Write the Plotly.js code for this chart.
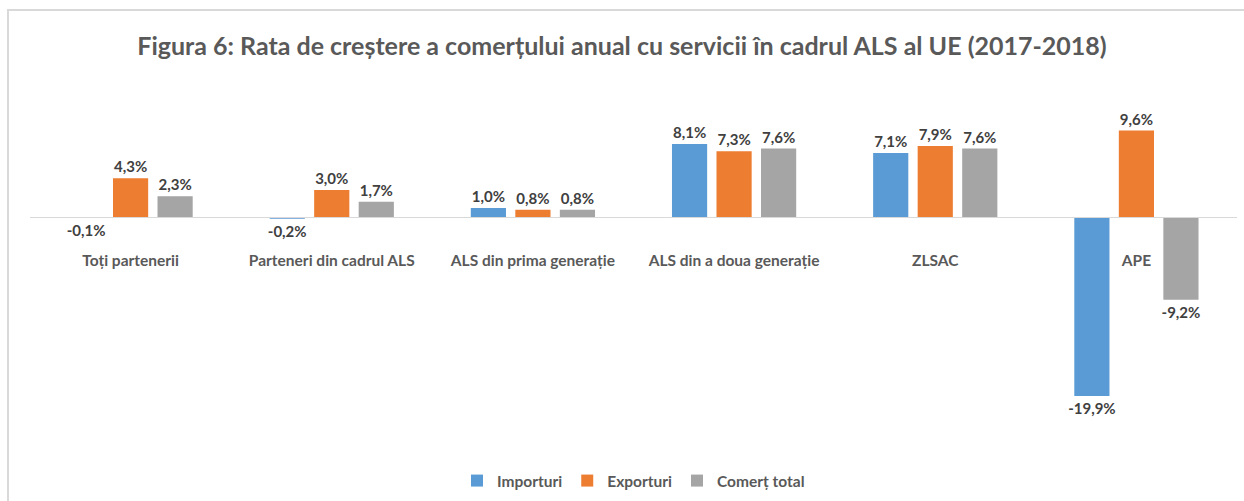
<!DOCTYPE html>
<html>
<head>
<meta charset="utf-8">
<script src="https://cdn.plot.ly/plotly-3.0.1.min.js"></script>
<style>
  html, body { margin: 0; padding: 0; background: #fff; }
  #frame { position: absolute; left: 7px; top: 9px; width: 1237px; height: 492px;
           border-top: 2px solid #d9d9d9; border-left: 2px solid #d9d9d9; box-sizing: border-box; }
  #chart { position: absolute; left: 0; top: 0; width: 1244px; height: 501px; }
</style>
</head>
<body>
<div id="frame"></div>
<div id="chart"></div>
<script>
// categorii si rate de crestere (%)
const categorii = ['Toți partenerii', 'Parteneri din cadrul ALS', 'ALS din prima generație',
                   'ALS din a doua generație', 'ZLSAC', 'APE'];
const importuri = [-0.1, -0.2, 1.0, 8.1, 7.1, -19.9];
const exporturi = [4.3, 3.0, 0.8, 7.3, 7.9, 9.6];
const comertTotal = [2.3, 1.7, 0.8, 7.6, 7.6, -9.2];

const font = 'Lato, "Open Sans", sans-serif';
const labelFont = { family: font, size: 15, color: '#404040', weight: 'bold' };

function serie(nume, valori, culoare) {
    return {
        type: 'bar',
        name: nume,
        x: categorii,
        y: valori,
        marker: { color: culoare },
        texttemplate: '%{y:.1f}%',
        textposition: 'outside',
        constraintext: 'none',
        textfont: labelFont,
        cliponaxis: false,
        hoverinfo: 'skip'
    };
}

const data = [
    serie('Importuri', importuri, '#5b9bd5'),
    serie('Exporturi', exporturi, '#ed7d31'),
    serie('Comerț total', comertTotal, '#a5a5a5')
];

// zero la y=217px, ~9px pe unitate
const yRange = [-23.67, 11.89];
const zeroPos = (0 - yRange[0]) / (yRange[1] - yRange[0]);

const layout = {
    width: 1244,
    height: 501,
    margin: { l: 30, r: 7, t: 110, b: 71 },
    paper_bgcolor: 'rgba(0,0,0,0)',
    plot_bgcolor: 'rgba(0,0,0,0)',
    separators: ',.',
    font: { family: font, color: '#595959' },
    title: {
        text: 'Figura 6: Rata de creștere a comerțului anual cu servicii în cadrul ALS al UE (2017-2018)',
        font: { family: font, size: 25, color: '#595959', weight: 'bold' },
        x: 0.5, xanchor: 'center',
        y: 1 - 46 / 501, yanchor: 'middle', yref: 'container'
    },
    barmode: 'group',
    bargap: 0.336,
    bargroupgap: 0.21,
    xaxis: {
        anchor: 'free',
        position: zeroPos,
        showline: true,
        linecolor: '#d9d9d9',
        linewidth: 1.5,
        ticks: '',
        ticklabelstandoff: 29,
        tickfont: { family: font, size: 15.5, color: '#595959', weight: 'bold' },
        showgrid: false,
        fixedrange: true
    },
    yaxis: {
        range: yRange,
        visible: false,
        showgrid: false,
        zeroline: false,
        fixedrange: true
    },
    showlegend: true,
    legend: {
        orientation: 'h',
        x: 0.5, xanchor: 'center',
        y: 1 - 481 / 501, yanchor: 'middle', yref: 'container',
        font: { family: font, size: 15.5, color: '#595959', weight: 'bold' },
        itemwidth: 30,
        traceorder: 'normal'
    }
};

Plotly.newPlot('chart', data, layout, { displayModeBar: false, staticPlot: true });
</script>
</body>
</html>
